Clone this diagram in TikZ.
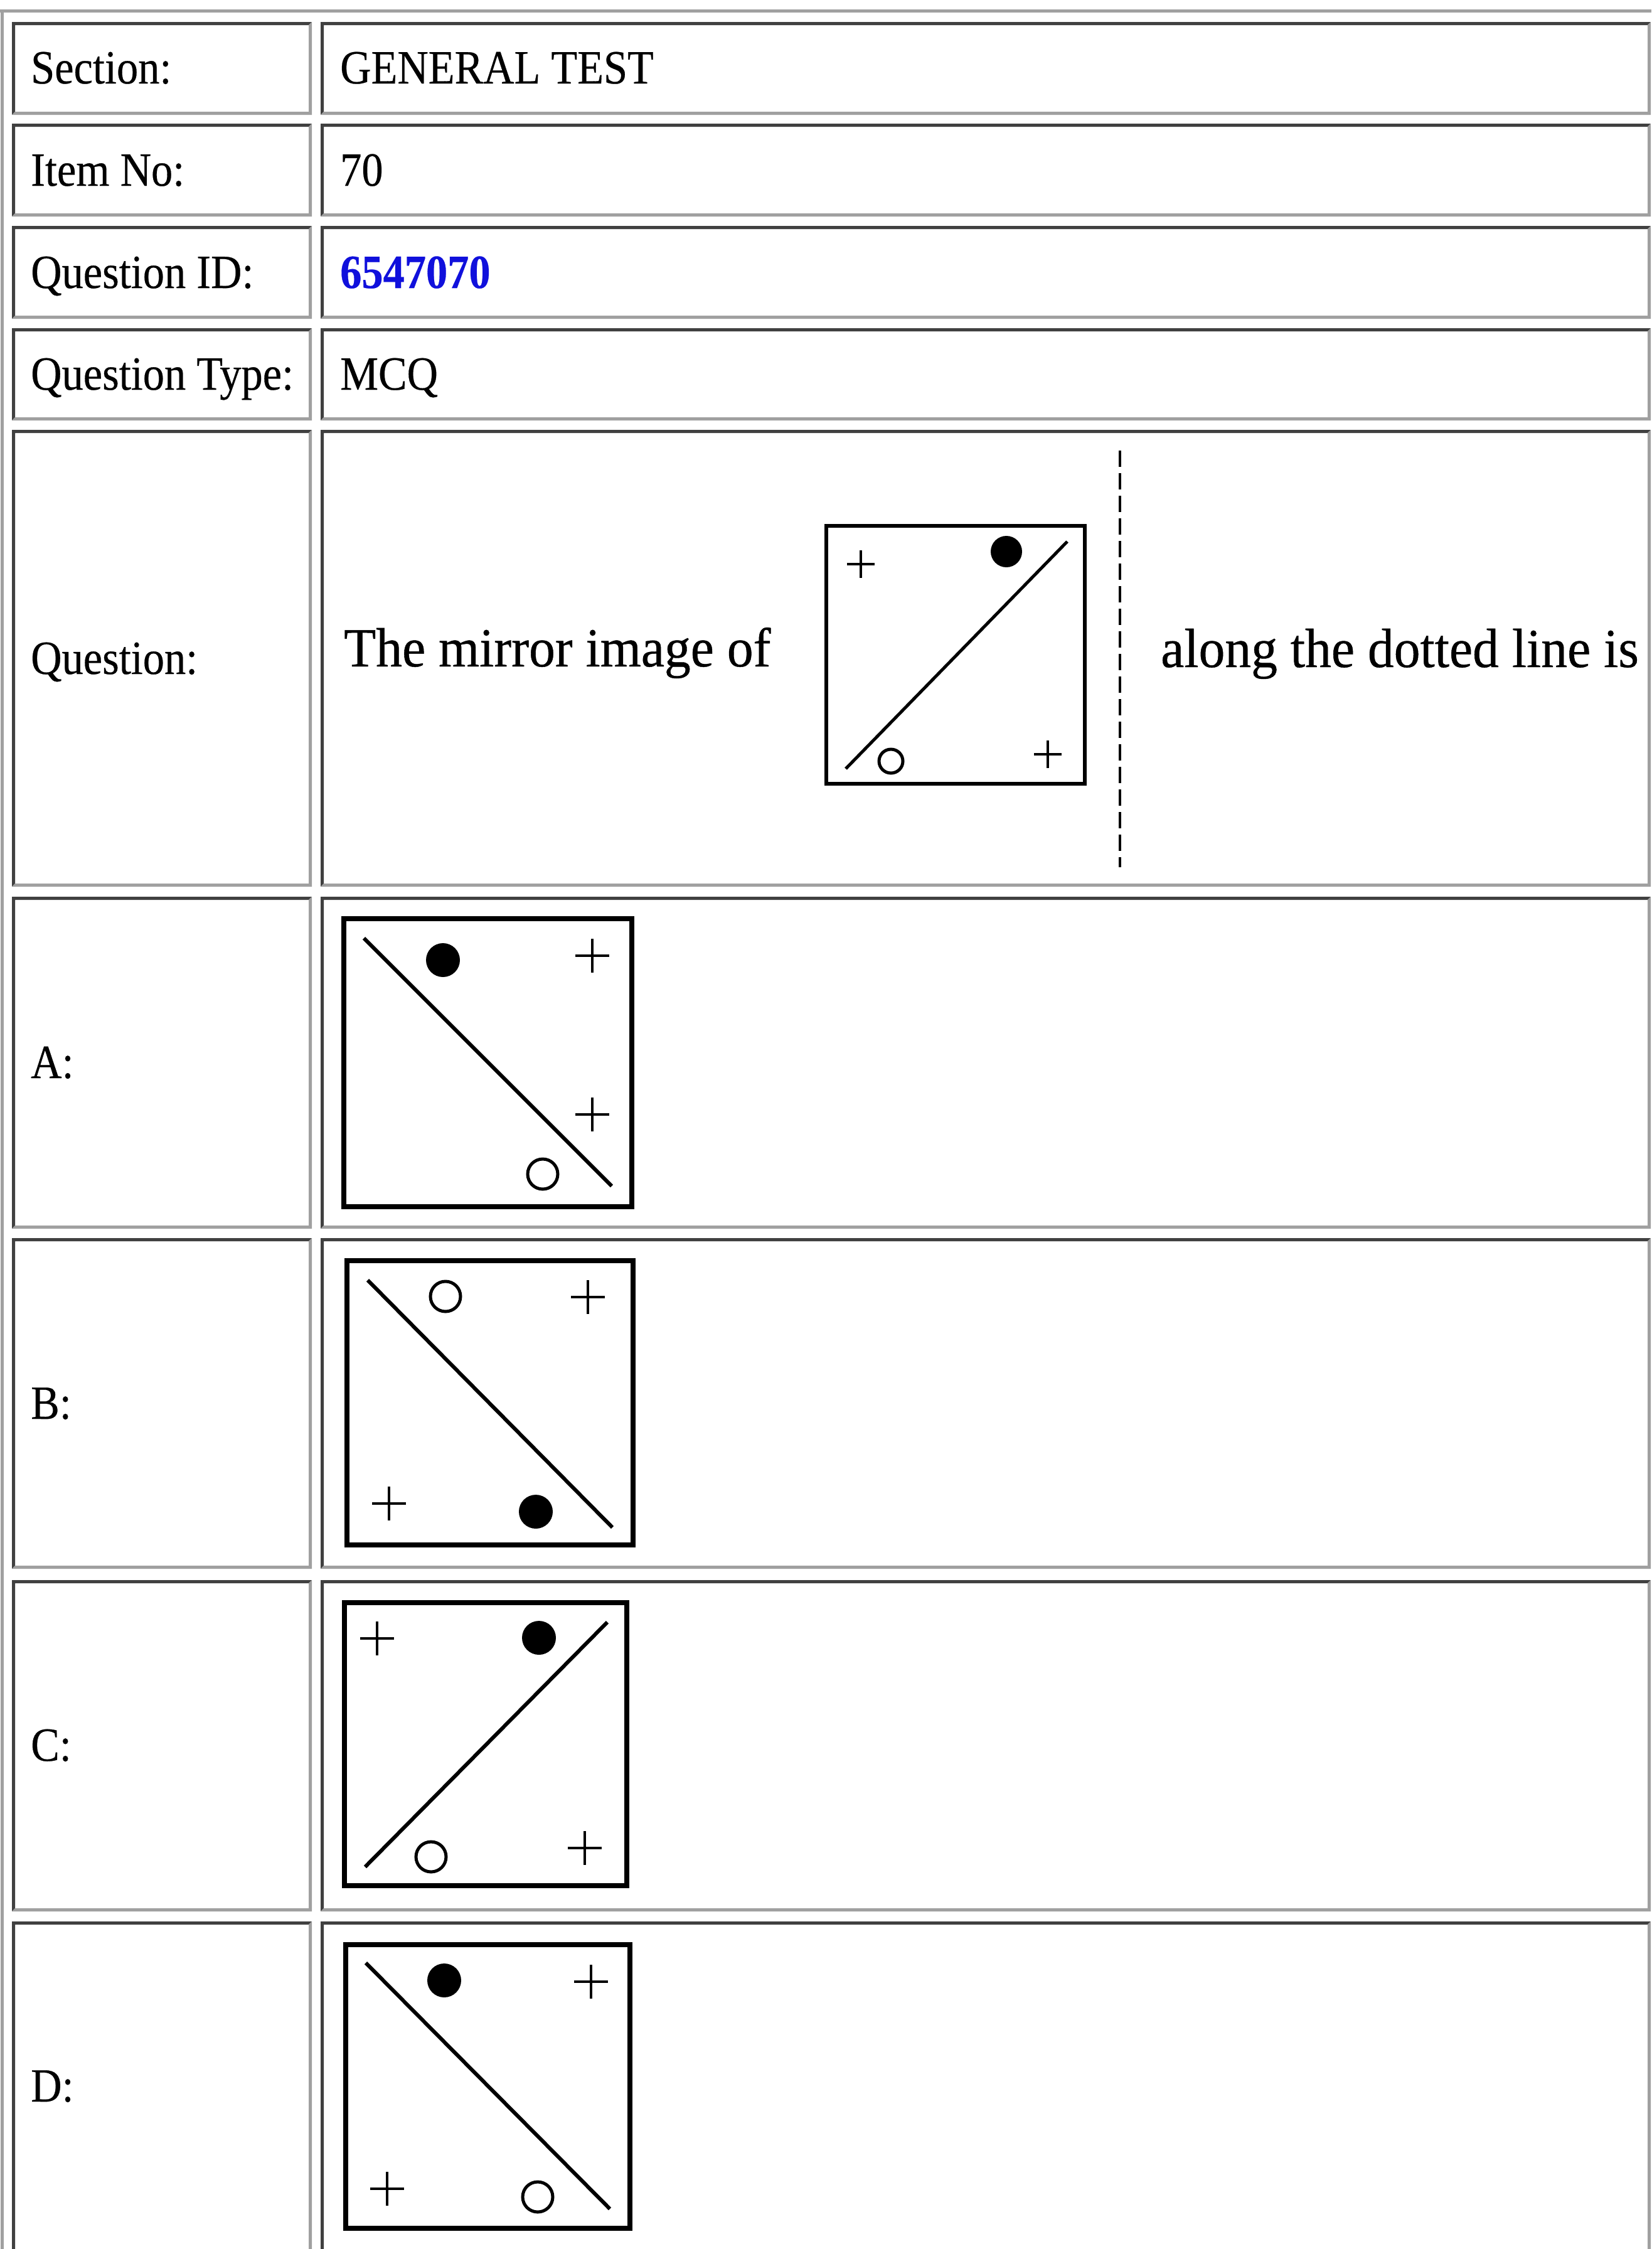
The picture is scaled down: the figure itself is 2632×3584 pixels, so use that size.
\documentclass[tikz,border=0pt]{standalone}
\usepackage{fontspec}
\newfontfamily\tabfont{Liberation Serif}[FakeStretch=0.9,FakeBold=0.35]
\newfontfamily\qfont{Liberation Serif}[FakeStretch=0.95,FakeBold=0.5]
\definecolor{celldark}{HTML}{404040}
\definecolor{celllight}{HTML}{A0A0A0}
\definecolor{qblue}{RGB}{16,16,220}
\newcommand\tabcell[4]{%
  \fill[celldark] (#1,#4) -- (#1,#2) -- (#3,#2) -- ({#3-5},{#2+5}) -- ({#1+5},{#2+5}) -- ({#1+5},{#4-5}) -- cycle;
  \fill[celllight] (#3,#2) -- (#3,#4) -- (#1,#4) -- ({#1+5},{#4-5}) -- ({#3-5},{#4-5}) -- ({#3-5},{#2+5}) -- cycle;
}
\newcommand\plusmk[3]{\draw[plusline] (#1,#2) +(-#3,0) -- +(#3,0) +(0,-#3) -- +(0,#3);}
\begin{document}
\begin{tikzpicture}[x=1pt,y=-1pt,
  lbl/.style={anchor=base west,inner sep=0pt,font=\tabfont\fontsize{76}{90}\selectfont},
  qtxt/.style={anchor=base west,inner sep=0pt,font=\qfont\fontsize{88}{100}\selectfont},
  figbox/.style={draw=black,line width=8pt},
  qbox/.style={draw=black,line width=6pt},
  diag/.style={draw=black,line width=6pt},
  qdiag/.style={draw=black,line width=5pt},
  plusline/.style={draw=black,line width=4.5pt},
  ocirc/.style={draw=black,line width=5pt},
  fdot/.style={fill=black},
  mirror/.style={draw=black,line width=3.5pt,dash pattern=on 26pt off 10pt}]
\clip (0,0) rectangle (2632,3584);
\fill[white] (0,0) rectangle (2632,3584);
% outer table border (outset: light top/left)
\fill[celllight] (0,15) rectangle (2632,20);
\fill[celllight] (1,15) rectangle (6,3600);
% cells
\foreach \ya/\yb in {35/183,197/345,360/508,523/670,685/1413,1429/1958,1973/2500,2518/3046,3062/3600}{
  \tabcell{19}{\ya}{497}{\yb}
  \tabcell{511}{\ya}{2631}{\yb}
}
% texts
\node[lbl] (lsec) at (49,133) {Section:};
\node[lbl] (vsec) at (542,133) {GENERAL TEST};
\node[lbl] (litem) at (49,296) {Item No:};
\node[lbl] (vitem) at (542,296) {70};
\node[lbl] (lqid) at (49,459) {Question ID:};
\node[lbl,text=qblue,font=\tabfont\bfseries\fontsize{76}{90}\selectfont] (vqid) at (542,459) {6547070};
\node[lbl] (lqtype) at (49,621) {Question Type:};
\node[lbl] (vqtype) at (542,621) {MCQ};
\node[lbl] (lq) at (49,1074) {Question:};
\node[lbl] (la) at (49,1718) {A:};
\node[lbl] (lb) at (49,2261) {B:};
\node[lbl] (lc) at (49,2806) {C:};
\node[lbl] (ld) at (49,3349) {D:};
\node[qtxt] (qt1) at (548,1062) {The mirror image of};
\node[qtxt] (qt2) at (1850,1063) {along the dotted line is};
% question figure
\draw[qbox] (1317,838) rectangle (1729,1249);
\draw[qdiag] (1348,1225) -- (1701,863);
\fill[fdot] (1604,879) circle[radius=25pt];
\plusmk{1372}{899}{22}
\draw[ocirc] (1420,1213) circle[radius=19pt];
\plusmk{1670}{1202}{22}
\draw[mirror] (1785,718) -- (1785,1382);
% option A
\draw[figbox] (548,1464) rectangle (1007,1923);
\draw[diag] (580,1495) -- (975,1890);
\fill[fdot] (706,1530) circle[radius=27pt];
\plusmk{944}{1523}{27}
\plusmk{944}{1776}{27}
\draw[ocirc] (865,1871) circle[radius=24pt];
% option B
\draw[figbox] (553,2009) rectangle (1009,2462);
\draw[diag] (586,2040) -- (976,2434);
\draw[ocirc] (710,2066) circle[radius=24pt];
\plusmk{937}{2067}{27}
\plusmk{620}{2396}{27}
\fill[fdot] (854,2409) circle[radius=27pt];
% option C
\draw[figbox] (549,2554) rectangle (999,3005);
\draw[diag] (582,2975) -- (968,2585);
\plusmk{601}{2611}{27}
\fill[fdot] (859,2610) circle[radius=27pt];
\draw[ocirc] (687,2959) circle[radius=24pt];
\plusmk{932}{2945}{27}
% option D
\draw[figbox] (551,3099) rectangle (1004,3551);
\draw[diag] (583,3128) -- (972,3520);
\fill[fdot] (708,3156) circle[radius=27pt];
\plusmk{942}{3158}{27}
\plusmk{617}{3488}{27}
\draw[ocirc] (857,3501) circle[radius=24pt];
\end{tikzpicture}
\end{document}
